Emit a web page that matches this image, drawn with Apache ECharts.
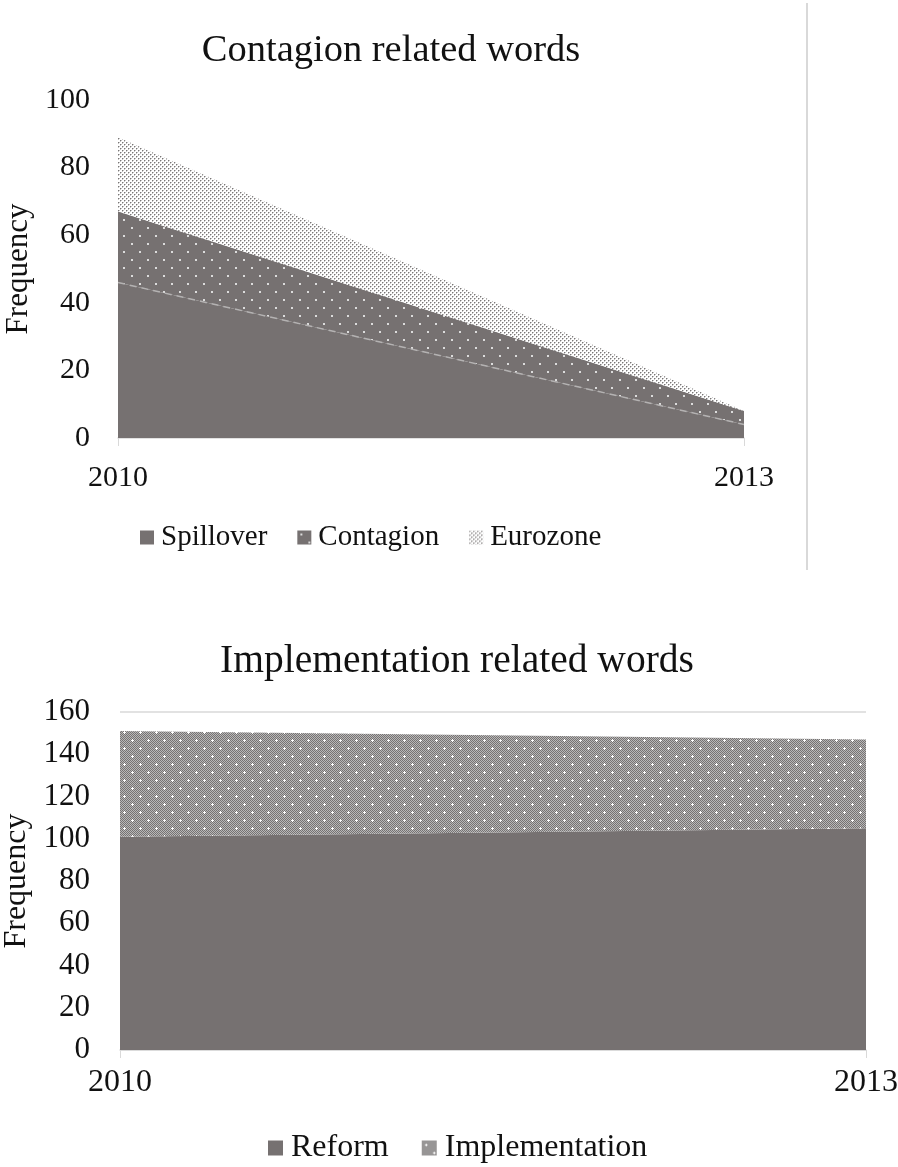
<!DOCTYPE html>
<html>
<head>
<meta charset="utf-8">
<script src="https://cdn.jsdelivr.net/npm/echarts@6/dist/echarts.min.js"></script>
<style>
  html, body { margin: 0; padding: 0; background: #fff; }
  #chart { width: 898px; height: 1167px; }
</style>
</head>
<body>
<div id="chart"></div>
<script>
// Word frequencies, 2010 vs 2013
const years = ['2010', '2013'];

// Contagion related words (stacked)
const spillover = [46, 4];
const contagion = [21, 4];
const eurozone = [22, 0];

// Implementation related words (stacked)
const reform = [101, 105];
const implementation = [50, 42];

const topTicks = { min: 0, max: 100, interval: 20 };
const bottomTicks = { min: 0, max: 160, interval: 20 };

const DARK = '#767171';
const FONT = '"Liberation Serif", "Times New Roman", serif';
const TEXT = '#111';

// Fill patterns drawn onto small canvases
function tile(size, draw) {
  const c = document.createElement('canvas');
  c.width = size; c.height = size;
  draw(c.getContext('2d'));
  return { image: c, repeat: 'repeat' };
}

// fine grey dot screen
const dotScreen = tile(4, ctx => {
  ctx.fillStyle = '#ffffff';
  ctx.fillRect(0, 0, 4, 4);
  ctx.fillStyle = '#7a7777';
  ctx.fillRect(0, 0, 1, 1);
  ctx.fillRect(2, 2, 1, 1);
  ctx.fillStyle = 'rgba(122,119,119,0.45)';
  ctx.fillRect(1, 0, 1, 1);
  ctx.fillRect(0, 1, 1, 1);
  ctx.fillRect(3, 2, 1, 1);
  ctx.fillRect(2, 3, 1, 1);
});

// dark fill with sparse light dots
const sparseDots = tile(16, ctx => {
  ctx.fillStyle = DARK;
  ctx.fillRect(0, 0, 16, 16);
  ctx.fillStyle = '#dcdcdc';
  ctx.fillRect(3, 3, 2, 2);
  ctx.fillRect(11, 11, 2, 2);
});

// checker with light crosses
const checkerCross = tile(16, ctx => {
  for (let y = 0; y < 16; y++) {
    for (let x = 0; x < 16; x++) {
      ctx.fillStyle = (x + y) % 2 === 0 ? '#767272' : '#b8b8b8';
      ctx.fillRect(x, y, 1, 1);
    }
  }
  ctx.fillStyle = '#ffffff';
  [[4, 4], [12, 12]].forEach(([cx, cy]) => {
    ctx.fillRect(cx - 1, cy, 3, 1);
    ctx.fillRect(cx, cy - 1, 1, 3);
  });
});

const chart = echarts.init(document.getElementById('chart'), null, { renderer: 'canvas' });

function catAxis(gridIndex, margin, size) {
  return {
    type: 'category',
    gridIndex,
    data: years,
    boundaryGap: false,
    axisLine: { show: true, lineStyle: { color: '#d9d9d9', width: 1.5 } },
    axisTick: { show: true, length: 8, alignWithLabel: true, lineStyle: { color: '#d9d9d9' } },
    axisLabel: { color: TEXT, fontFamily: FONT, fontSize: size, margin }
  };
}

function valAxis(gridIndex, ticks, showGrid, margin, nameGap, size) {
  return {
    type: 'value',
    gridIndex,
    min: ticks.min, max: ticks.max, interval: ticks.interval,
    name: 'Frequency',
    nameLocation: 'middle',
    nameRotate: 90,
    nameGap,
    nameTextStyle: { color: TEXT, fontFamily: FONT, fontSize: size + 1 },
    axisLine: { show: false },
    axisTick: { show: false },
    axisLabel: { color: TEXT, fontFamily: FONT, fontSize: size, margin },
    splitLine: { show: showGrid, lineStyle: { color: '#d9d9d9', width: 1.5 } }
  };
}

function area(name, values, idx, stack, fill, line, z) {
  return {
    name,
    type: 'line',
    xAxisIndex: idx, yAxisIndex: idx,
    stack,
    data: values,
    symbol: 'none',
    showSymbol: false,
    z: z || 2,
    itemStyle: { color: fill },
    lineStyle: line || { width: 0, opacity: 0 },
    areaStyle: { color: fill, opacity: 1 },
    emphasis: { disabled: true }
  };
}

chart.setOption({
  animation: false,
  backgroundColor: '#ffffff',
  title: [
    {
      text: 'Contagion related words',
      left: 386, top: 26, textAlign: 'center',
      textStyle: { color: TEXT, fontFamily: FONT, fontSize: 38.5, fontWeight: 'normal' }
    },
    {
      text: 'Implementation related words',
      left: 452, top: 637, textAlign: 'center',
      textStyle: { color: TEXT, fontFamily: FONT, fontSize: 39.5, fontWeight: 'normal' }
    }
  ],
  legend: [
    {
      left: 135, top: 518,
      icon: 'rect', itemWidth: 14, itemHeight: 14, itemGap: 30,
      textStyle: { color: TEXT, fontFamily: FONT, fontSize: 29, padding: [0, 0, 0, 2] },
      itemStyle: { borderWidth: 0 },
      data: [
        { name: 'Spillover', itemStyle: { color: DARK } },
        { name: 'Contagion', itemStyle: { color: sparseDots } },
        { name: 'Eurozone', itemStyle: { color: dotScreen } }
      ]
    },
    {
      left: 263, top: 1127,
      icon: 'rect', itemWidth: 15, itemHeight: 15, itemGap: 33,
      textStyle: { color: TEXT, fontFamily: FONT, fontSize: 32, padding: [0, 0, 0, 3] },
      itemStyle: { borderWidth: 0 },
      data: [
        { name: 'Reform', itemStyle: { color: DARK } },
        { name: 'Implementation', itemStyle: { color: checkerCross } }
      ]
    }
  ],
  grid: [
    { left: 118, top: 100, width: 626, height: 338, outerBoundsMode: 'none' },
    { left: 120, top: 712, width: 746, height: 338, outerBoundsMode: 'none' }
  ],
  xAxis: [catAxis(0, 25, 30), catAxis(1, 17, 32)],
  yAxis: [valAxis(0, topTicks, false, 28, 82, 30), valAxis(1, bottomTicks, true, 30, 84, 31)],
  series: [
    area('Spillover', spillover, 0, 'top', DARK,
      { width: 1.5, color: '#b4b2b2', type: [7, 5] }, 3),
    area('Contagion', contagion, 0, 'top', sparseDots),
    area('Eurozone', eurozone, 0, 'top', dotScreen),
    area('Reform', reform, 1, 'bottom', DARK),
    area('Implementation', implementation, 1, 'bottom', checkerCross)
  ],
  graphic: [
    {
      type: 'line',
      shape: { x1: 807, y1: 3, x2: 807, y2: 570 },
      style: { stroke: '#d9d9d9', lineWidth: 2 }
    }
  ]
});
</script>
</body>
</html>
